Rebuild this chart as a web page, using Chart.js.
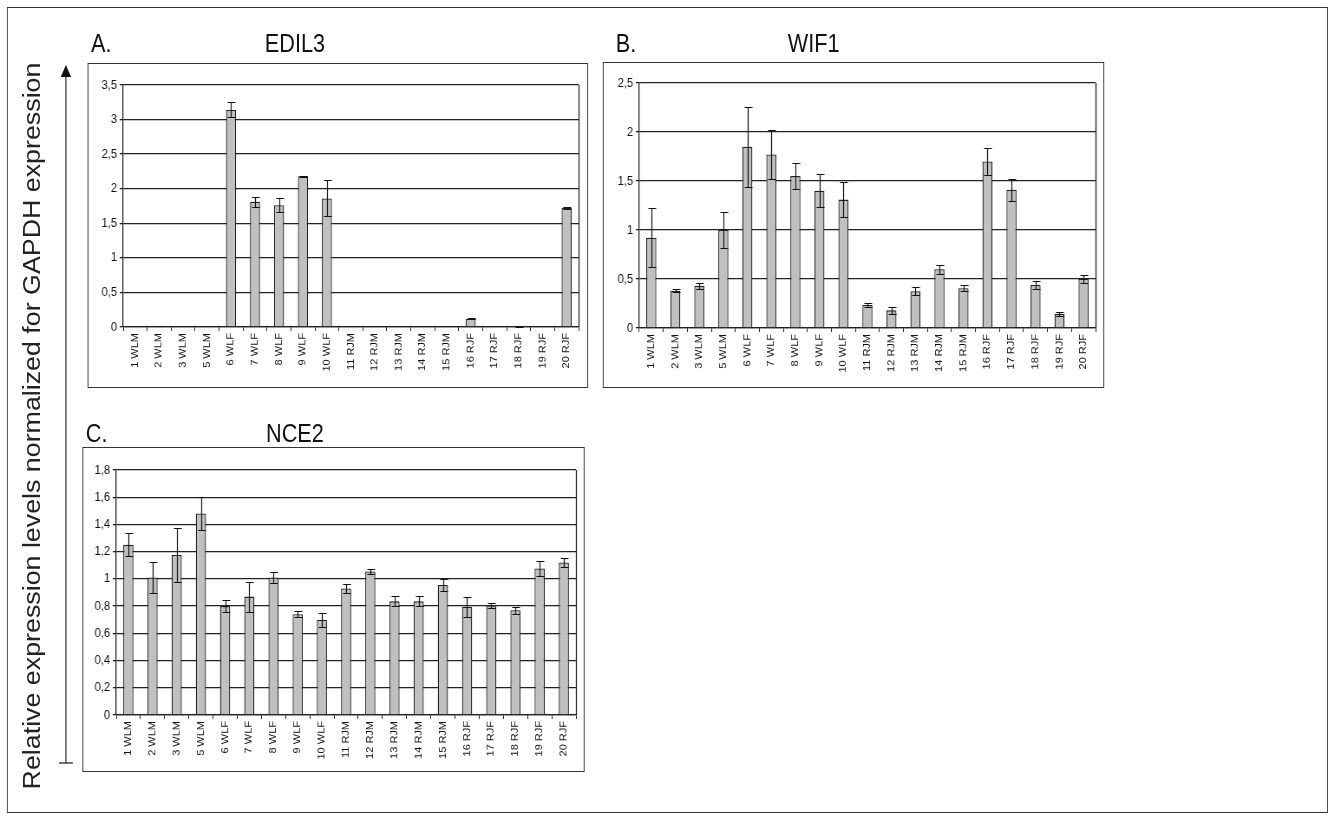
<!DOCTYPE html>
<html>
<head>
<meta charset="utf-8">
<script src="https://cdn.jsdelivr.net/npm/chart.js@4"></script>
<style>
  body { margin: 0; background: #fff; width: 1334px; height: 820px; overflow: hidden; position: relative;
         font-family: 'Liberation Sans', Arial, sans-serif; }
  /* figure is laid out wide and squeezed horizontally, like the original scan */
  #page { position: absolute; left: 0; top: 0; width: 1538px; height: 820px;
          transform: scaleX(0.8674); transform-origin: 0 0; }
  .frame { position: absolute; left: 8px; top: 7px; width: 1521px; height: 804px; border: 1px solid #333; }
  .box { position: absolute; border: 1px solid #333; background: #fff; }
  .box canvas { position: absolute; left: 0; top: 0; }
  .lbl { position: absolute; font-size: 25px; line-height: 25px; color: #111; white-space: nowrap; }
  .ttl { transform: translateX(-50%); }
  .ylab { position: absolute; left: 38px; top: 426px; font-size: 26.8px; color: #222; white-space: nowrap;
          transform: translate(-50%, -50%) rotate(-90deg); }
  svg { position: absolute; left: 0; top: 0; }
</style>
</head>
<body>
<div id="page">
<div class="frame"></div>
<div class="ylab">Relative expression levels normalized for GAPDH expression</div>
<svg width="120" height="820">
  <line x1="76" y1="74" x2="76" y2="763" stroke="#222" stroke-width="1.3"/>
  <polygon points="76,65 70,77 82,77" fill="#111"/>
  <line x1="68" y1="763" x2="84" y2="763" stroke="#222" stroke-width="1.3"/>
</svg>

<div class="lbl" style="left:105px; top:31px">A.</div>
<div class="lbl ttl" style="left:340px; top:31px">EDIL3</div>
<div class="lbl" style="left:710px; top:31px">B.</div>
<div class="lbl ttl" style="left:938px; top:31px">WIF1</div>
<div class="lbl" style="left:99px; top:421px">C.</div>
<div class="lbl ttl" style="left:340px; top:421px">NCE2</div>

<div class="box" style="left:101px; top:63px; width:575px; height:323px"><canvas id="edil3"></canvas></div>
<div class="box" style="left:695px; top:62px; width:576px; height:324px"><canvas id="wif1"></canvas></div>
<div class="box" style="left:95px; top:447px; width:577px; height:323px"><canvas id="nce2"></canvas></div>
</div>

<script>
const categories = ['1 WLM', '2 WLM', '3 WLM', '5 WLM', '6 WLF', '7 WLF', '8 WLF', '9 WLF', '10 WLF',
  '11 RJM', '12 RJM', '13 RJM', '14 RJM', '15 RJM', '16 RJF', '17 RJF', '18 RJF', '19 RJF', '20 RJF'];

// EDIL3
const edil3Values = [0, 0.015, 0, 0, 3.14, 1.81, 1.76, 2.18, 1.86, 0, 0, 0, 0, 0, 0.12, 0, 0.01, 0, 1.72];
const edil3Errors = [0, 0.005, 0, 0, 0.11, 0.07, 0.1, 0.01, 0.26, 0, 0, 0, 0, 0, 0.01, 0, 0.005, 0, 0.015];

// WIF1
const wif1Values = [0.92, 0.38, 0.43, 1.0, 1.85, 1.77, 1.55, 1.40, 1.31, 0.235, 0.18, 0.375, 0.60, 0.405, 1.70, 1.41, 0.44, 0.145, 0.50];
const wif1Errors = [0.30, 0.015, 0.03, 0.18, 0.41, 0.25, 0.13, 0.17, 0.18, 0.02, 0.037, 0.04, 0.046, 0.03, 0.14, 0.11, 0.04, 0.02, 0.036];

// NCE2
const nce2Values = [1.25, 1.01, 1.175, 1.48, 0.80, 0.87, 1.01, 0.74, 0.70, 0.93, 1.055, 0.835, 0.835, 0.955, 0.795, 0.805, 0.77, 1.077, 1.12];
const nce2Errors = [0.085, 0.115, 0.2, 0.12, 0.045, 0.11, 0.037, 0.023, 0.05, 0.03, 0.02, 0.037, 0.037, 0.045, 0.075, 0.017, 0.025, 0.055, 0.032];

const font = "'Liberation Sans', Arial, sans-serif";

// error bars + right edge of the plot area
const excelBits = {
  id: 'excelBits',
  afterDatasetsDraw(chart) {
    const ctx = chart.ctx;
    const y = chart.scales.y;
    const area = chart.chartArea;
    const errs = chart.options.plugins.excelBits.errors;
    const meta = chart.getDatasetMeta(0);
    const vals = chart.data.datasets[0].data;
    ctx.save();
    ctx.strokeStyle = '#111';
    ctx.lineWidth = 1.2;
    meta.data.forEach((bar, i) => {
      const e = errs[i];
      if (!e) return;
      const x = Math.round(bar.x) + 0.5;
      const top = Math.round(y.getPixelForValue(vals[i] + e)) + 0.5;
      const bot = Math.round(y.getPixelForValue(Math.max(0, vals[i] - e))) + 0.5;
      ctx.beginPath();
      ctx.moveTo(x, top); ctx.lineTo(x, bot);
      ctx.moveTo(x - 4, top); ctx.lineTo(x + 5, top);
      ctx.moveTo(x - 4, bot); ctx.lineTo(x + 5, bot);
      ctx.stroke();
    });
    ctx.strokeStyle = '#222';
    ctx.lineWidth = 1.3;
    ctx.beginPath();
    ctx.moveTo(Math.round(area.right) + 0.5, area.top);
    ctx.lineTo(Math.round(area.right) + 0.5, area.bottom);
    ctx.stroke();
    ctx.restore();
  }
};

function makePanel(id, values, errors, max, step, w, h, pad, yWidth, xHeight) {
  const canvas = document.getElementById(id);
  canvas.width = w;
  canvas.height = h;
  return new Chart(canvas, {
    type: 'bar',
    data: {
      labels: categories,
      datasets: [{
        data: values,
        backgroundColor: '#c0c0c0',
        borderColor: '#222',
        borderWidth: 1.3,
        barPercentage: 0.42,
        categoryPercentage: 1
      }]
    },
    options: {
      responsive: false,
      animation: false,
      devicePixelRatio: 1,
      layout: { padding: pad },
      plugins: {
        legend: { display: false },
        tooltip: { enabled: false },
        excelBits: { errors: errors }
      },
      scales: {
        x: {
          afterFit: (s) => { s.height = xHeight; },
          grid: { display: true, drawOnChartArea: false, drawTicks: true, tickLength: 4, color: '#222', offset: true },
          border: { display: true, color: '#222', width: 1.3 },
          ticks: {
            autoSkip: false, minRotation: 90, maxRotation: 90, padding: 2,
            color: '#111', font: { family: font, size: 11 }
          }
        },
        y: {
          min: 0, max: max,
          afterFit: (s) => { s.width = yWidth; },
          grid: { color: '#222', lineWidth: 1.3, drawTicks: true, tickLength: 4, tickColor: '#222' },
          border: { display: true, color: '#222', width: 1.3 },
          ticks: {
            stepSize: step, padding: 3, color: '#111', font: { family: font, size: 13 },
            callback: (v) => String(Math.round(v * 10) / 10).replace('.', ',')
          }
        }
      }
    },
    plugins: [excelBits]
  });
}

makePanel('edil3', edil3Values, edil3Errors, 3.5, 0.5, 575, 323, { left: 0, top: 21, right: 10, bottom: 0 }, 40, 60);
makePanel('wif1', wif1Values, wif1Errors, 2.5, 0.5, 576, 324, { left: 0, top: 20, right: 9, bottom: 0 }, 41, 59);
makePanel('nce2', nce2Values, nce2Errors, 1.8, 0.2, 577, 323, { left: 0, top: 22, right: 9, bottom: 0 }, 38, 56);
</script>
</body>
</html>
